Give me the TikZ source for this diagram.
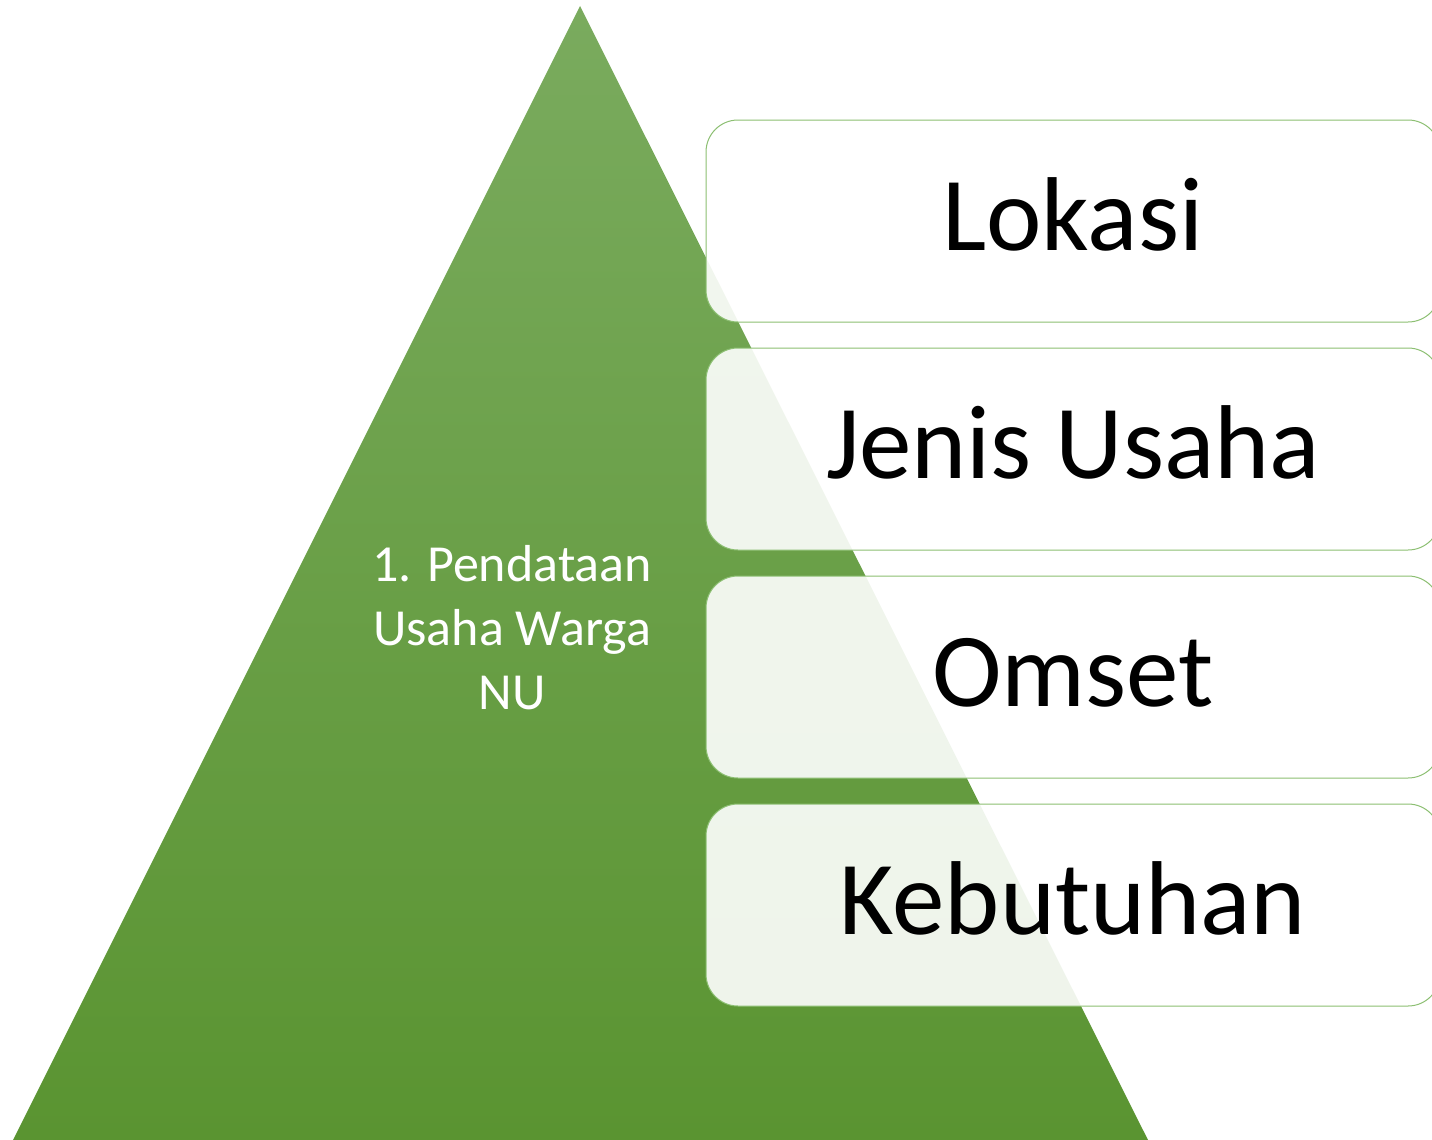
\documentclass[tikz,border=0pt]{standalone}
\usepackage{fontspec}
\setmainfont{Carlito}
\usetikzlibrary{positioning}
\definecolor{leaf}{HTML}{5A9431}
\definecolor{leaftop}{HTML}{7AAB5E}
\definecolor{rim}{HTML}{8CBF72}

\begin{document}
\begin{tikzpicture}
  [x=1pt, y=-1pt,
   item/.style={draw=rim, line width=1pt, fill=white, fill opacity=0.9, text opacity=1,
     rounded corners=32pt, minimum width=734pt, minimum height=202pt, inner sep=0pt, outer sep=0pt,
     text height=70pt, text depth=12pt, font=\fontsize{105}{126}\selectfont}]
  \useasboundingbox (0,0) rectangle (1432,1140);
  \shade[top color=leaftop, bottom color=leaf] (580,6) -- (1148,1140) -- (13,1140) -- cycle;
  \node[text=white, align=center, font=\fontsize{52}{64}\selectfont] (title) at (512,628) {1. Pendataan\\Usaha Warga\\NU};
  \node[item] (lokasi) at (1073,221) {Lokasi};
  \node[item, below=26pt of lokasi] (jenis) {Jenis Usaha};
  \node[item, below=26pt of jenis] (omset) {Omset};
  \node[item, below=26pt of omset] (butuh) {Kebutuhan};
\end{tikzpicture}
\end{document}
